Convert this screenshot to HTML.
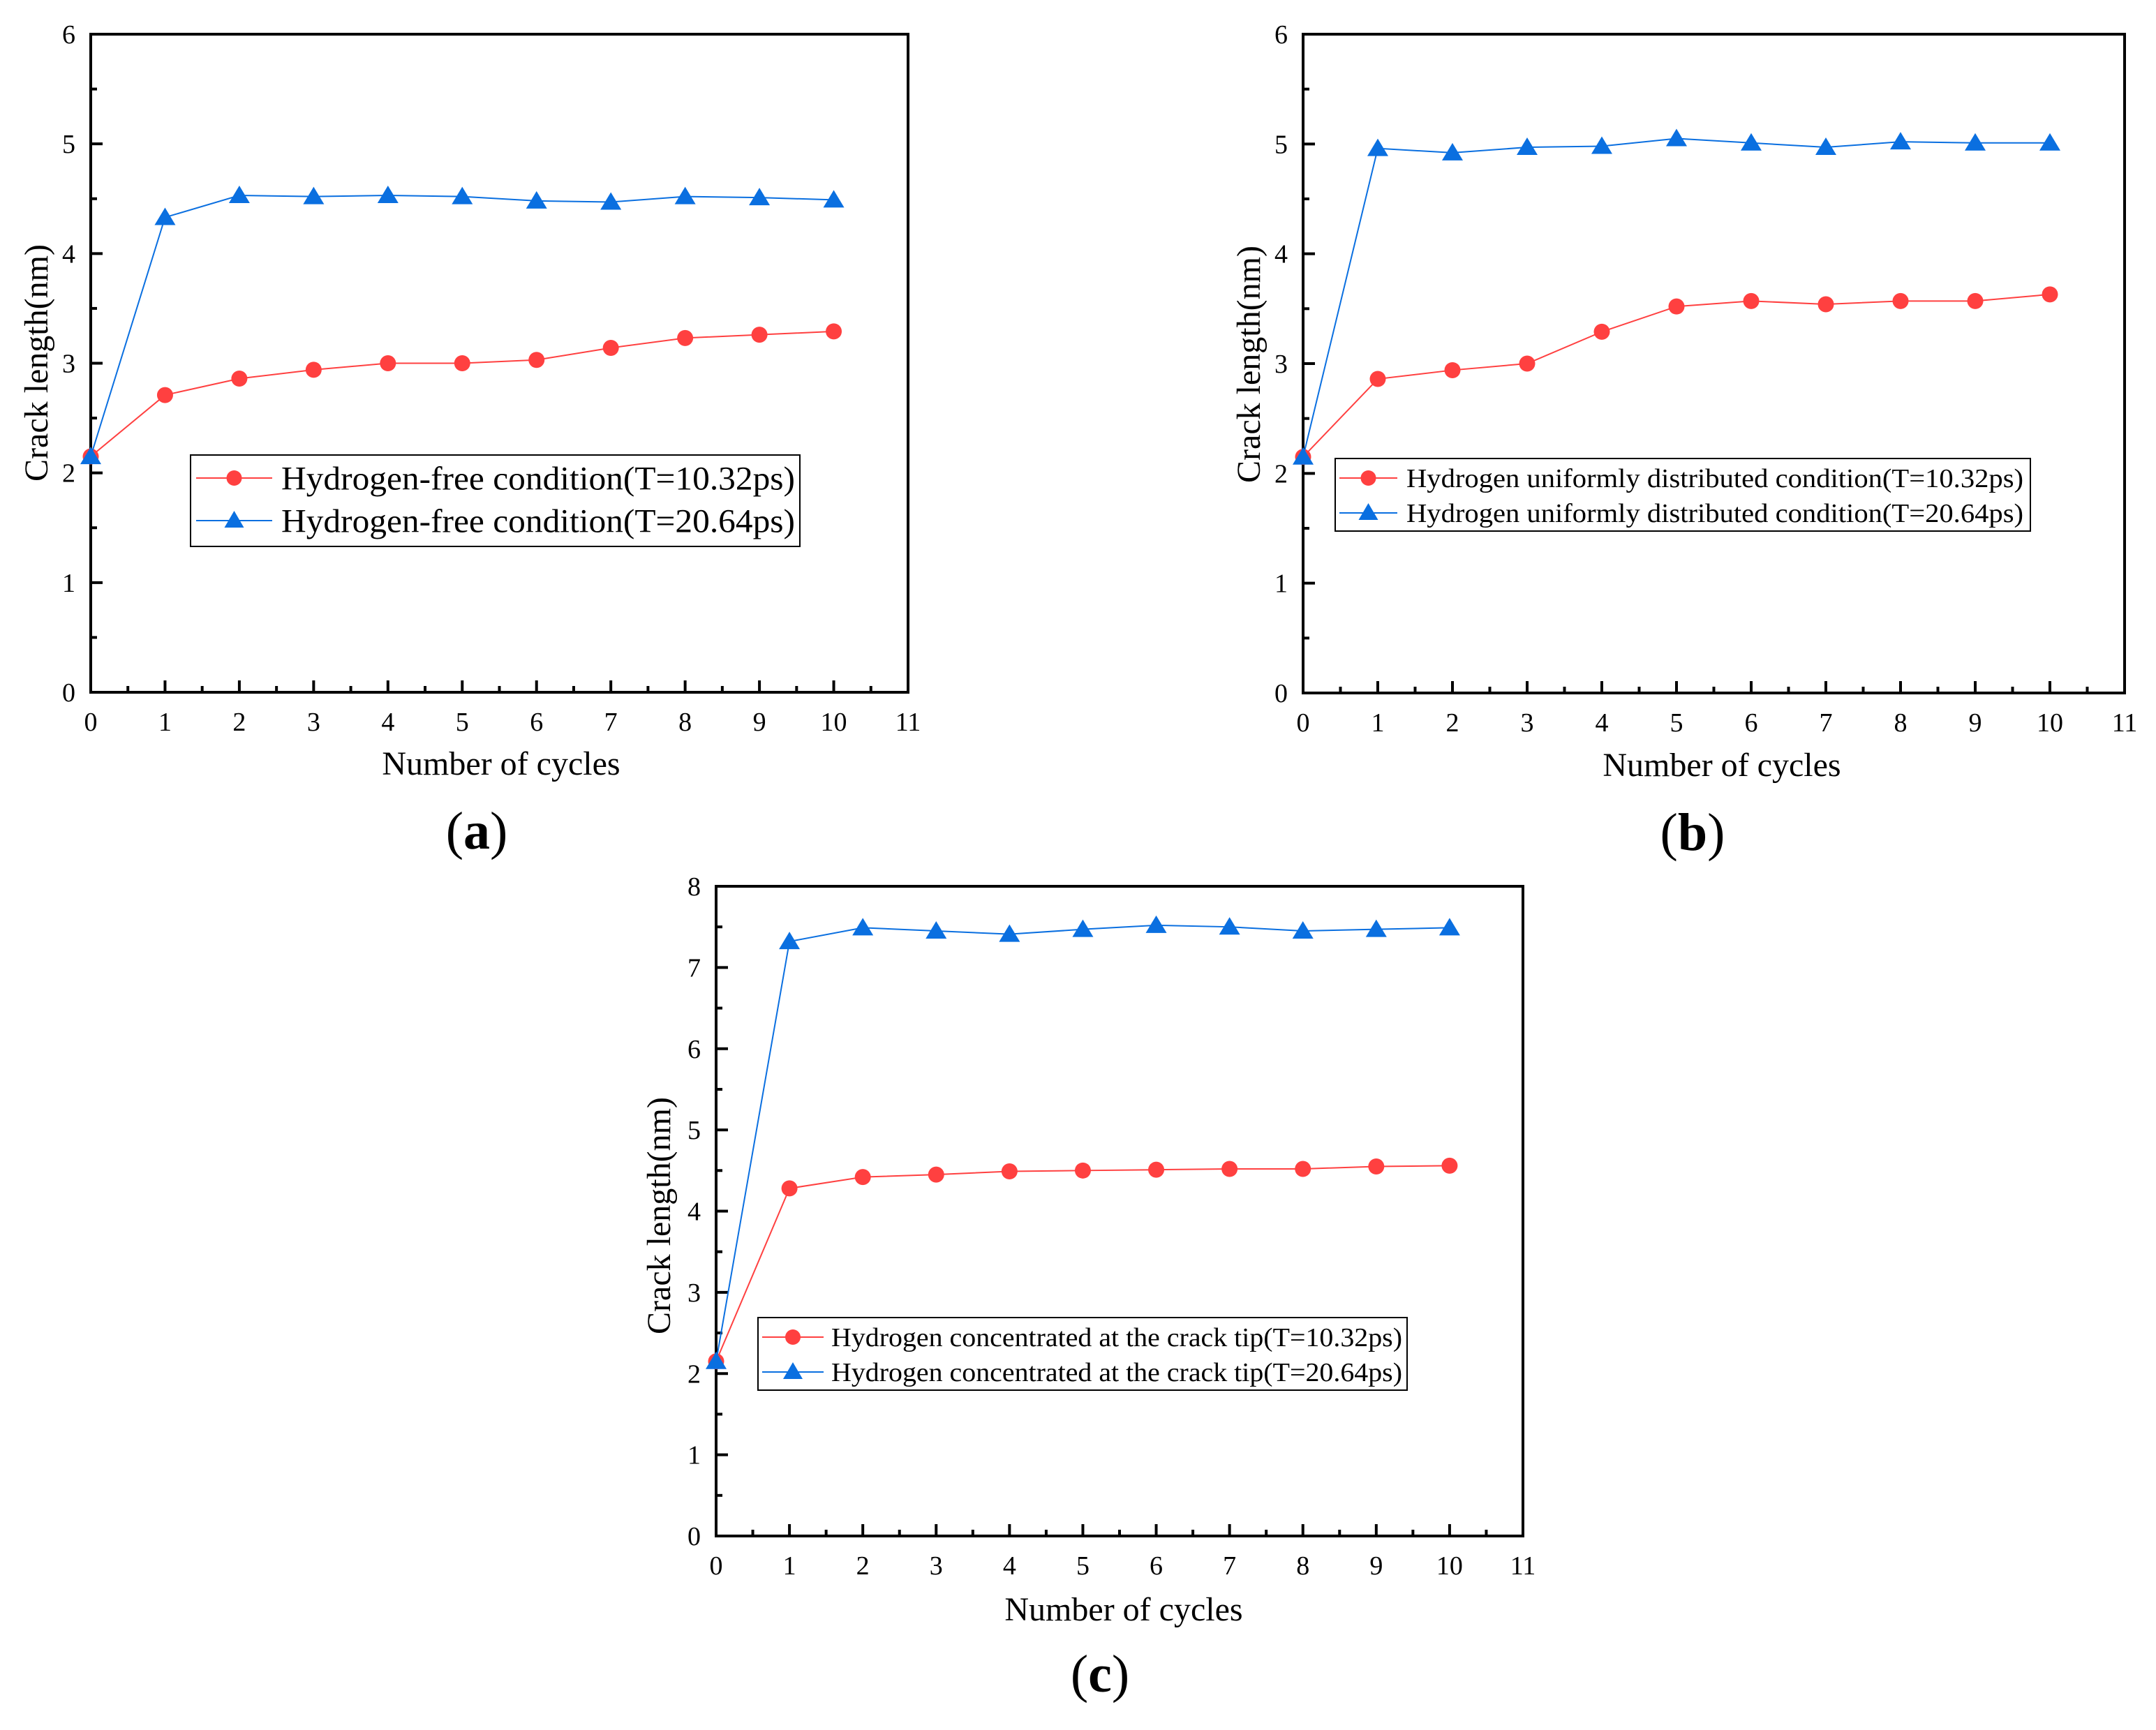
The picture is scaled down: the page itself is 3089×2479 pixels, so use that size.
<!DOCTYPE html>
<html><head><meta charset="utf-8"><style>
html,body{margin:0;padding:0;background:#fff;}
svg{display:block;font-family:"Liberation Serif",serif;}
</style></head><body>
<svg id="fig" width="3089" height="2479" viewBox="0 0 3089 2479" xmlns="http://www.w3.org/2000/svg"></svg>
<script>
// ---- data ----
const cycles = [0,1,2,3,4,5,6,7,8,9,10];
const xTickLabels = ["0","1","2","3","4","5","6","7","8","9","10","11"];
const yTicksA = ["0","1","2","3","4","5","6"];
const yTicksC = ["0","1","2","3","4","5","6","7","8"];
const aRed  = [2.15,2.71,2.86,2.94,3.00,3.00,3.03,3.14,3.23,3.26,3.29];
const aBlue = [2.15,4.33,4.53,4.52,4.53,4.52,4.48,4.47,4.52,4.51,4.49];
const bRed  = [2.15,2.86,2.94,3.00,3.29,3.52,3.57,3.54,3.57,3.57,3.63];
const bBlue = [2.15,4.96,4.92,4.97,4.98,5.05,5.01,4.97,5.02,5.01,5.01];
const cRed  = [2.15,4.28,4.42,4.45,4.49,4.50,4.51,4.52,4.52,4.55,4.56];
const cBlue = [2.15,7.32,7.49,7.45,7.41,7.47,7.52,7.50,7.45,7.47,7.49];
const legendA = ["Hydrogen-free condition(T=10.32ps)","Hydrogen-free condition(T=20.64ps)"];
const legendB = ["Hydrogen uniformly distributed condition(T=10.32ps)","Hydrogen uniformly distributed condition(T=20.64ps)"];
const legendC = ["Hydrogen concentrated at the crack tip(T=10.32ps)","Hydrogen concentrated at the crack tip(T=20.64ps)"];

const NS="http://www.w3.org/2000/svg";
const svg=document.getElementById('fig');
const RED="#ff4040", BLUE="#0a6fe0";
function mk(tag,attrs,parent){const e=document.createElementNS(NS,tag);for(const k in attrs)e.setAttribute(k,attrs[k]);(parent||svg).appendChild(e);return e;}

function panel(cfg){
  const g=mk('g',{});
  
  
  const L=cfg.l,R=cfg.r,T=cfg.t,B=cfg.b;
  const xmax=11, ymax=cfg.yTicks.length-1;
  const sx=v=>L+(R-L)*v/xmax;
  const sy=v=>B-(B-T)*v/ymax;
  const fr=mk('rect',{x:L,y:T,width:R-L,height:B-T,fill:'none',stroke:'#000','stroke-width':4},g);
  
  
  for(let i=0;i<=22;i++){
    const v=i/2, x=sx(v), len=(i%2===0)?17:9;
    const t=mk('line',{x1:x,y1:B,x2:x,y2:B-len,stroke:'#000','stroke-width':4},g);
    
    
  }
  xTickLabels.forEach((lab,i)=>{
    const tx=mk('text',{x:sx(i),y:B+55,'text-anchor':'middle','font-size':38,fill:'#000'},g);
    tx.textContent=lab;
    
    
  });
  for(let i=0;i<=ymax*2;i++){
    const v=i/2, y=sy(v), len=(i%2===0)?17:9;
    const t=mk('line',{x1:L,y1:y,x2:L+len,y2:y,stroke:'#000','stroke-width':4},g);
    
    
  }
  cfg.yTicks.forEach((lab,i)=>{
    const tx=mk('text',{x:L-22,y:sy(i)+13,'text-anchor':'end','font-size':38,fill:'#000'},g);
    tx.textContent=lab;
    
    
  });
  const xt=mk('text',{x:cfg.xtx,y:cfg.xty,'text-anchor':'middle','font-size':48,fill:'#000'},g);
  xt.textContent='Number of cycles';
  
  
  const yt=mk('text',{x:0,y:0,'text-anchor':'middle','font-size':48,fill:'#000',transform:`translate(${cfg.ytx},${cfg.yty}) rotate(-90)`},g);
  yt.textContent='Crack length(nm)';
  
  
  const cap=mk('text',{x:cfg.capx,y:cfg.capy,'text-anchor':'middle','font-size':76,fill:'#000'},g);
  cap.innerHTML='(<tspan font-weight="bold">'+cfg.id+'</tspan>)';
  
  
  const series=[{d:cfg.red,c:RED,m:'circle'},{d:cfg.blue,c:BLUE,m:'tri'}];
  series.forEach((s,si)=>{
    const pts=cycles.map((c,i)=>sx(c)+','+sy(s.d[i])).join(' ');
    const pl=mk('polyline',{points:pts,fill:'none',stroke:s.c,'stroke-width':2},g);
    
    
    cycles.forEach((c,i)=>{
      const x=sx(c),y=sy(s.d[i]);
      let m;
      if(s.m==='circle') m=mk('circle',{cx:x,cy:y,r:11.5,fill:s.c},g);
      else m=mk('polygon',{points:`${x},${y-14} ${x-15},${y+11} ${x+15},${y+11}`,fill:s.c},g);
      
      
    });
  });
  const lg=cfg.lg;
  const lb=mk('rect',{x:lg.x,y:lg.y,width:lg.w,height:lg.h,fill:'#fff',stroke:'#000','stroke-width':2},g);
  
  
  cfg.leg.forEach((txt,i)=>{
    const y=lg.rows[i], c=i?BLUE:RED;
    const ln=mk('line',{x1:lg.l1,y1:y,x2:lg.l2,y2:y,stroke:c,'stroke-width':2},g);
    
    
    const mx=(lg.l1+lg.l2)/2;
    let m;
    if(i===0) m=mk('circle',{cx:mx,cy:y,r:11,fill:c},g);
    else m=mk('polygon',{points:`${mx},${y-14} ${mx-14},${y+10} ${mx+14},${y+10}`,fill:c},g);
    
    
    const t=mk('text',{x:lg.tx,y:y+lg.fs*0.34,'font-size':lg.fs,fill:'#000',textLength:lg.tw,lengthAdjust:'spacingAndGlyphs'},g);
    t.textContent=txt;
    
    
  });
}

panel({id:'a',l:130,r:1301,t:49,b:992,yTicks:yTicksA,red:aRed,blue:aBlue,leg:legendA,
  xtx:718,xty:1110,ytx:68,yty:520,capx:683,capy:1216,
  lg:{x:273,y:652,w:873,h:131,rows:[685,746],l1:281,l2:390,tx:403,tw:736,fs:48}});
panel({id:'b',l:1867,r:3044,t:49,b:993,yTicks:yTicksA,red:bRed,blue:bBlue,leg:legendB,
  xtx:2467,xty:1112,ytx:1805,yty:522,capx:2425,capy:1218,
  lg:{x:1913,y:657,w:996,h:104,rows:[685,735],l1:1919,l2:2002,tx:2015,tw:884,fs:38}});
panel({id:'c',l:1026,r:2182,t:1270,b:2201,yTicks:yTicksC,red:cRed,blue:cBlue,leg:legendC,
  xtx:1610,xty:2322,ytx:960,yty:1742,capx:1576,capy:2424,
  lg:{x:1086,y:1888,w:930,h:104,rows:[1916,1966],l1:1092,l2:1180,tx:1191,tw:818,fs:38}});
</script>
</body></html>
